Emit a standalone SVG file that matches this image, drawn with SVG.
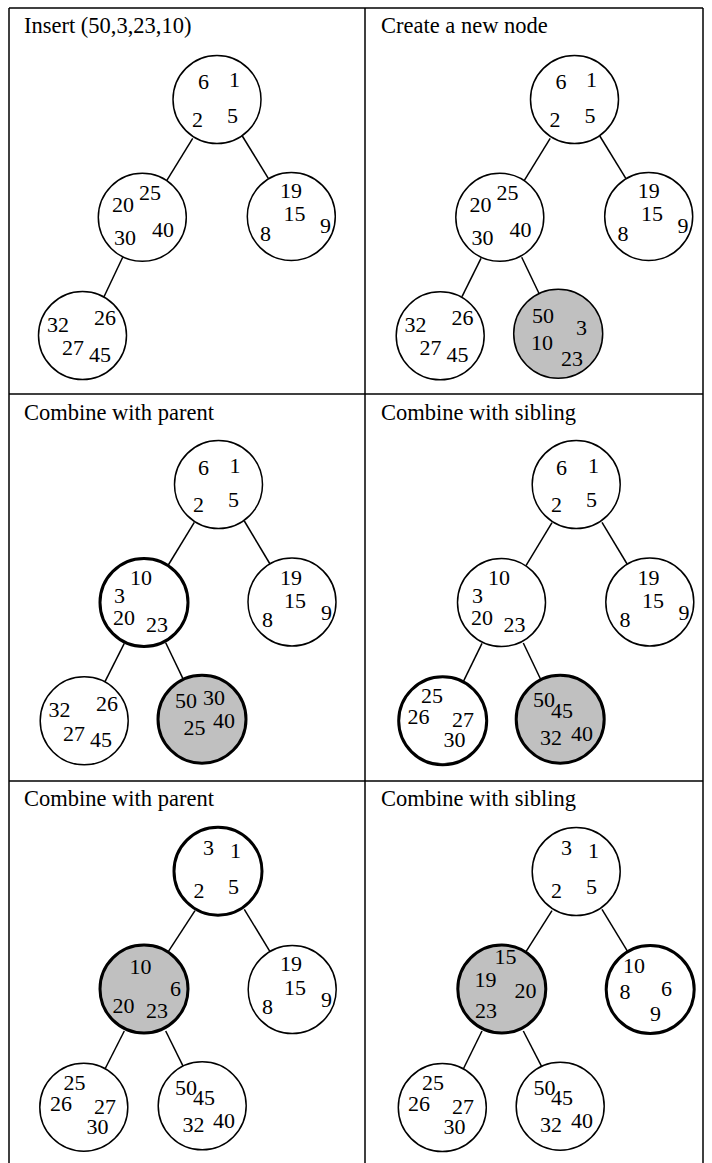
<svg xmlns="http://www.w3.org/2000/svg" width="712" height="1163" viewBox="0 0 712 1163">
<style>
text{font-family:"Liberation Serif","Times New Roman",serif;fill:#000}
.t{font-size:22.5px}
.n{font-size:22px}
.c{fill:#fff;stroke:#000;stroke-width:1.5}
.b{stroke-width:3}
.g{fill:#c0c0c0}
.e{stroke:#000;stroke-width:1.5;fill:none}
.f{stroke:#000;stroke-width:1.5;fill:none}
</style>
<g id="frame">
<line class="f" x1="9" y1="8" x2="703" y2="8"/>
<line class="f" x1="9" y1="394" x2="703" y2="394"/>
<line class="f" x1="9" y1="781" x2="703" y2="781"/>
<line class="f" x1="9" y1="8" x2="9" y2="1163"/>
<line class="f" x1="365" y1="8" x2="365" y2="1163"/>
<line class="f" x1="703" y1="8" x2="703" y2="1163"/>
</g>
<g id="titles" class="t">
<text class="t" x="24" y="33">Insert (50,3,23,10)</text>
<text class="t" x="381" y="33">Create a new node</text>
<text class="t" x="24" y="420">Combine with parent</text>
<text class="t" x="381" y="420">Combine with sibling</text>
<text class="t" x="24" y="806">Combine with parent</text>
<text class="t" x="381" y="806">Combine with sibling</text>
</g>
<g id="connectors">
<line class="e" x1="192.7" y1="138.3" x2="166.7" y2="180.7"/>
<line class="e" x1="242.3" y1="136" x2="268.3" y2="178.3"/>
<line class="e" x1="122.7" y1="257.3" x2="104" y2="296.7"/>
<line class="e" x1="550.2" y1="138.3" x2="524.2" y2="180.7"/>
<line class="e" x1="599.8" y1="136" x2="625.8" y2="178.3"/>
<line class="e" x1="481" y1="258.3" x2="462" y2="296.7"/>
<line class="e" x1="521.7" y1="257.3" x2="539.3" y2="294"/>
<line class="e" x1="194.3" y1="522.3" x2="168.3" y2="565"/>
<line class="e" x1="244.3" y1="521" x2="270" y2="564"/>
<line class="e" x1="124.3" y1="643.3" x2="105" y2="681.7"/>
<line class="e" x1="165.7" y1="642.7" x2="183.3" y2="679.3"/>
<line class="e" x1="552" y1="522.7" x2="526" y2="565.7"/>
<line class="e" x1="602" y1="522.3" x2="627.7" y2="565"/>
<line class="e" x1="482" y1="643.3" x2="463.3" y2="681.7"/>
<line class="e" x1="523.3" y1="643" x2="541" y2="680"/>
<line class="e" x1="195" y1="910.7" x2="168.3" y2="951.7"/>
<line class="e" x1="244.3" y1="909.3" x2="270" y2="951.7"/>
<line class="e" x1="124.3" y1="1031" x2="105" y2="1069"/>
<line class="e" x1="165.7" y1="1031" x2="183.3" y2="1066.7"/>
<line class="e" x1="552" y1="910.7" x2="526" y2="951.7"/>
<line class="e" x1="602" y1="909.3" x2="627.7" y2="951.7"/>
<line class="e" x1="482" y1="1031" x2="463.3" y2="1069"/>
<line class="e" x1="523.3" y1="1031" x2="541.7" y2="1066.7"/>
</g>
<g id="p1-root"><circle class="c" cx="217" cy="99.5" r="44"/><text class="n" x="198" y="89">6</text><text class="n" x="229" y="87">1</text><text class="n" x="192" y="127">2</text><text class="n" x="227" y="123">5</text></g>
<g id="p1-left"><circle class="c" cx="142.3" cy="217.3" r="44"/><text class="n" x="112" y="212">20</text><text class="n" x="139" y="200">25</text><text class="n" x="114" y="245">30</text><text class="n" x="152" y="237">40</text></g>
<g id="p1-right"><circle class="c" cx="291.3" cy="216.5" r="44"/><text class="n" x="280" y="198">19</text><text class="n" x="283.5" y="221">15</text><text class="n" x="260" y="241">8</text><text class="n" x="320" y="233">9</text></g>
<g id="p1-ll"><circle class="c" cx="82.5" cy="335.5" r="44"/><text class="n" x="47" y="332">32</text><text class="n" x="94" y="325">26</text><text class="n" x="62" y="355">27</text><text class="n" x="89" y="362">45</text></g>

<g id="p2-root"><circle class="c" cx="574.5" cy="99.5" r="44"/><text class="n" x="555.5" y="89">6</text><text class="n" x="586" y="87">1</text><text class="n" x="549.5" y="127">2</text><text class="n" x="584.5" y="123">5</text></g>
<g id="p2-left"><circle class="c" cx="499.8" cy="217.3" r="44"/><text class="n" x="469.5" y="212">20</text><text class="n" x="496.5" y="200">25</text><text class="n" x="471.5" y="245">30</text><text class="n" x="509.5" y="237">40</text></g>
<g id="p2-right"><circle class="c" cx="648.7" cy="216.5" r="44"/><text class="n" x="637.8" y="198">19</text><text class="n" x="641" y="221">15</text><text class="n" x="617.5" y="241">8</text><text class="n" x="677.5" y="233">9</text></g>
<g id="p2-ll"><circle class="c" cx="440.2" cy="335.8" r="44"/><text class="n" x="404.5" y="332">32</text><text class="n" x="451.5" y="325">26</text><text class="n" x="419.5" y="355">27</text><text class="n" x="446.5" y="362">45</text></g>
<g id="p2-new"><circle class="c g" cx="558.2" cy="333.8" r="44.5"/><text class="n" x="532" y="323">50</text><text class="n" x="576" y="335">3</text><text class="n" x="531" y="350">10</text><text class="n" x="561" y="366">23</text></g>

<g id="p3-root"><circle class="c" cx="218.5" cy="484.5" r="44"/><text class="n" x="198" y="475">6</text><text class="n" x="229.5" y="473">1</text><text class="n" x="193" y="512">2</text><text class="n" x="228" y="507">5</text></g>
<g id="p3-left"><circle class="c b" cx="144" cy="602.5" r="44"/><text class="n" x="130" y="585">10</text><text class="n" x="114" y="603">3</text><text class="n" x="113" y="625">20</text><text class="n" x="146" y="632">23</text></g>
<g id="p3-right"><circle class="c" cx="292" cy="602" r="44"/><text class="n" x="280" y="585">19</text><text class="n" x="284" y="608">15</text><text class="n" x="262" y="627">8</text><text class="n" x="321" y="620">9</text></g>
<g id="p3-ll"><circle class="c" cx="84.2" cy="720.8" r="44"/><text class="n" x="48.5" y="717">32</text><text class="n" x="96" y="711">26</text><text class="n" x="63" y="741">27</text><text class="n" x="90" y="747">45</text></g>
<g id="p3-lr"><circle class="c g b" cx="202" cy="719.2" r="44"/><text class="n" x="175" y="708">50</text><text class="n" x="203" y="705">30</text><text class="n" x="183.5" y="735">25</text><text class="n" x="213" y="728">40</text></g>

<g id="p4-root"><circle class="c" cx="576.2" cy="484.5" r="44"/><text class="n" x="556" y="475">6</text><text class="n" x="588" y="473">1</text><text class="n" x="551" y="512">2</text><text class="n" x="586" y="507">5</text></g>
<g id="p4-left"><circle class="c" cx="501.5" cy="602.5" r="44"/><text class="n" x="488" y="585">10</text><text class="n" x="472" y="603">3</text><text class="n" x="471" y="625">20</text><text class="n" x="503.5" y="632">23</text></g>
<g id="p4-right"><circle class="c" cx="649.8" cy="602" r="44"/><text class="n" x="637.5" y="585">19</text><text class="n" x="642" y="608">15</text><text class="n" x="619.5" y="627">8</text><text class="n" x="678.5" y="620">9</text></g>
<g id="p4-ll"><circle class="c b" cx="442.7" cy="720.8" r="44"/><text class="n" x="421" y="703">25</text><text class="n" x="407.5" y="724">26</text><text class="n" x="452" y="727">27</text><text class="n" x="443.5" y="747">30</text></g>
<g id="p4-lr"><circle class="c g b" cx="560.2" cy="719.2" r="44"/><text class="n" x="533" y="707">50</text><text class="n" x="551" y="718">45</text><text class="n" x="540" y="745">32</text><text class="n" x="571" y="741">40</text></g>

<g id="p5-root"><circle class="c b" cx="218" cy="871.2" r="44"/><text class="n" x="203" y="855">3</text><text class="n" x="230" y="858">1</text><text class="n" x="193.5" y="898">2</text><text class="n" x="228" y="894">5</text></g>
<g id="p5-left"><circle class="c g b" cx="144" cy="989" r="44"/><text class="n" x="129.5" y="974">10</text><text class="n" x="170" y="996">6</text><text class="n" x="112.5" y="1013">20</text><text class="n" x="146" y="1018">23</text></g>
<g id="p5-right"><circle class="c" cx="292.2" cy="989.5" r="44"/><text class="n" x="280" y="971">19</text><text class="n" x="284" y="995">15</text><text class="n" x="262" y="1014">8</text><text class="n" x="321" y="1007">9</text></g>
<g id="p5-ll"><circle class="c" cx="83.8" cy="1107.2" r="44"/><text class="n" x="63.5" y="1090">25</text><text class="n" x="50" y="1111">26</text><text class="n" x="94" y="1114">27</text><text class="n" x="86.5" y="1134">30</text></g>
<g id="p5-lr"><circle class="c" cx="202.2" cy="1105.8" r="44"/><text class="n" x="175" y="1095">50</text><text class="n" x="193" y="1105">45</text><text class="n" x="182.5" y="1132">32</text><text class="n" x="213" y="1128">40</text></g>

<g id="p6-root"><circle class="c" cx="576.2" cy="871.5" r="44"/><text class="n" x="561" y="855">3</text><text class="n" x="588" y="858">1</text><text class="n" x="551" y="898">2</text><text class="n" x="586" y="894">5</text></g>
<g id="p6-left"><circle class="c g b" cx="501.8" cy="989" r="44"/><text class="n" x="494.5" y="964">15</text><text class="n" x="474.5" y="987">19</text><text class="n" x="514.5" y="998">20</text><text class="n" x="475" y="1018">23</text></g>
<g id="p6-right"><circle class="c b" cx="650.2" cy="989.5" r="44"/><text class="n" x="623" y="972.5">10</text><text class="n" x="619.5" y="999">8</text><text class="n" x="661" y="996">6</text><text class="n" x="650" y="1021">9</text></g>
<g id="p6-ll"><circle class="c" cx="442.3" cy="1107.5" r="44"/><text class="n" x="422" y="1090">25</text><text class="n" x="408" y="1111">26</text><text class="n" x="452" y="1114">27</text><text class="n" x="443.5" y="1134">30</text></g>
<g id="p6-lr"><circle class="c" cx="560.2" cy="1106.2" r="44"/><text class="n" x="533.5" y="1095">50</text><text class="n" x="551" y="1105">45</text><text class="n" x="540" y="1132">32</text><text class="n" x="571" y="1128">40</text></g>
</svg>
